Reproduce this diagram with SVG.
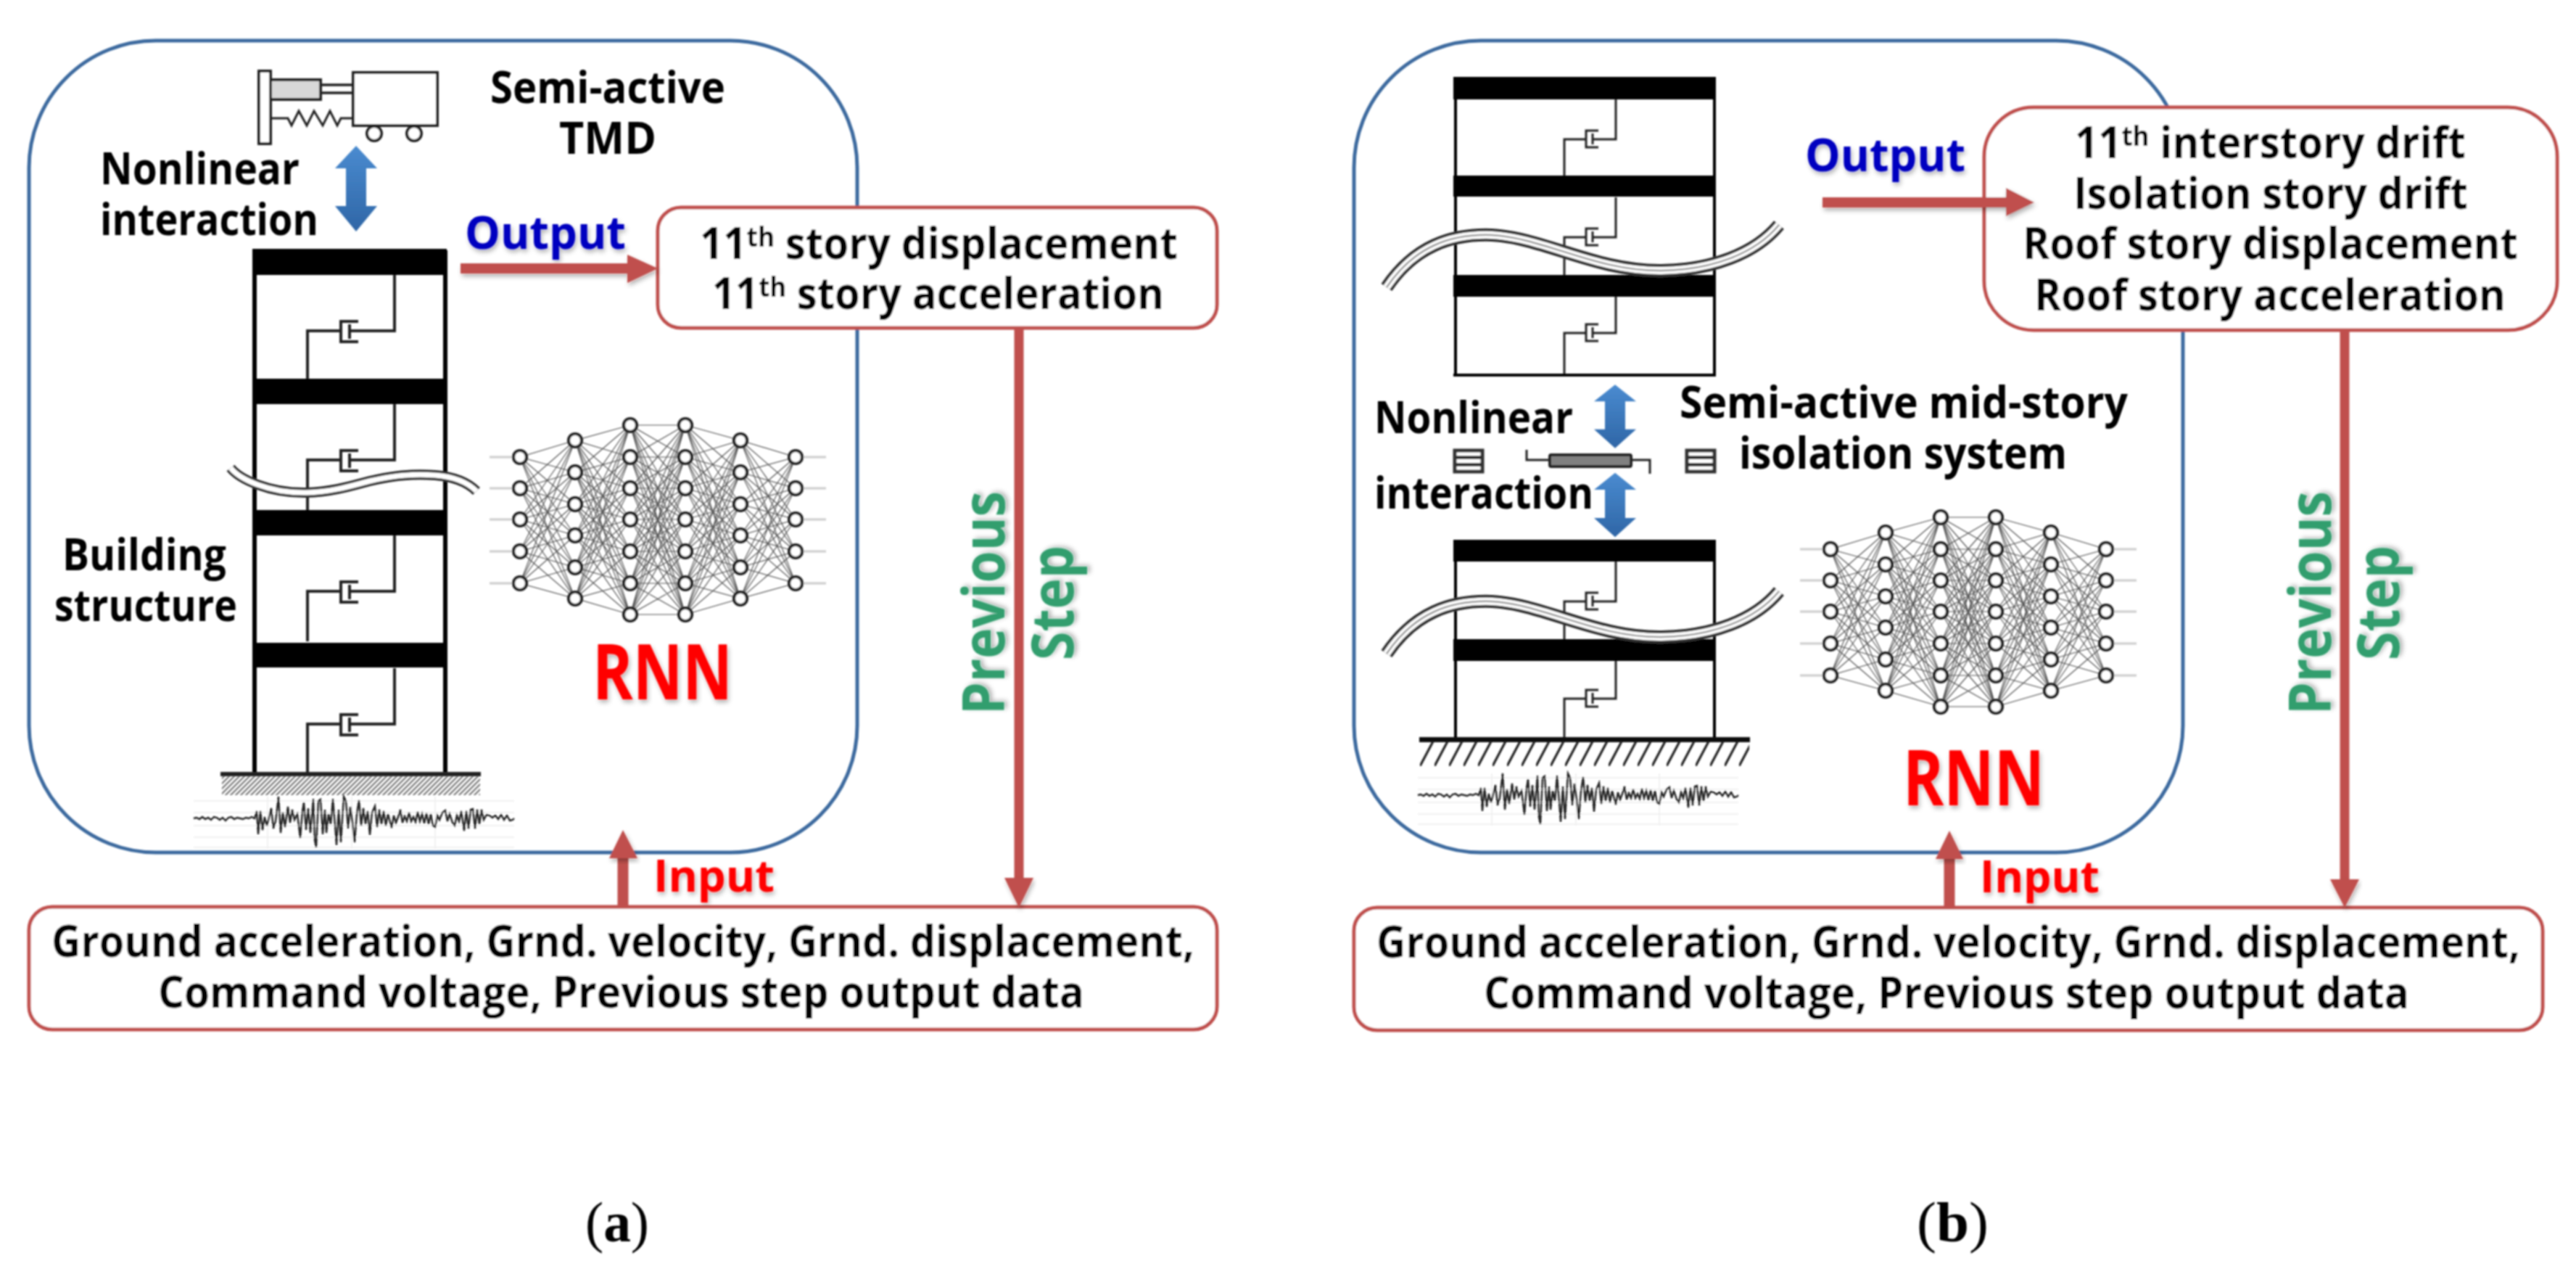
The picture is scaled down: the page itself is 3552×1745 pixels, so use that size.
<svg xmlns="http://www.w3.org/2000/svg" width="3552" height="1745" viewBox="0 0 3552 1745">
<style>
text{font-family:"Open Sans","Noto Sans","Liberation Sans",sans-serif;font-weight:700;font-size:61px;fill:#000}
.mid{text-anchor:middle}
.sup{font-size:38px}
.out{font-size:62px;fill:#0000c0;filter:url(#sh)}
.in{fill:#f00;filter:url(#sh)}
.rnn{fill:#f00;font-size:105px;filter:url(#sh)}
.ps{font-size:81px;fill:#339e6e;filter:url(#sh)}
.cap{font-family:"Liberation Serif",serif;font-weight:400;font-size:78px}
.capb{font-weight:700}
.frame{fill:none;stroke:#3c6a9f;stroke-width:5}
.box{fill:#fff;stroke:#c0504d;stroke-width:5}
.arr{fill:#c0504d;filter:url(#sh)}
.line{stroke:#c0504d;stroke-width:13;fill:none}
.slab{fill:#000}
.col{stroke:#000;fill:none}
.thin{stroke:#222;stroke-width:3;fill:none}
.wave1{fill:none;stroke:#333;stroke-width:14}
.wave2{fill:none;stroke:#fff;stroke-width:7}
.waveb1{fill:none;stroke:#333;stroke-width:18}
.waveb2{fill:none;stroke:#fff;stroke-width:10}
.waveb3{fill:none;stroke:#999;stroke-width:2.5}
.link{fill:none;stroke:#555;stroke-width:1.2}
.stub{stroke:#ccc;stroke-width:3;fill:none}
.n{fill:#fff;stroke:#222;stroke-width:4.2}
.tmd{fill:#fff;stroke:#222;stroke-width:4}
.grid{fill:none;stroke:#f1f1f1;stroke-width:2}
</style>
<defs>
<filter id="soft" filterUnits="userSpaceOnUse" x="0" y="0" width="3552" height="1745"><feGaussianBlur stdDeviation="0.9"/></filter>
<filter id="sh" x="-10%" y="-10%" width="120%" height="130%"><feDropShadow dx="2" dy="4" stdDeviation="3" flood-color="#000" flood-opacity=".3"/></filter>
<linearGradient id="blue" x1="0" y1="0" x2="0" y2="1"><stop offset="0" stop-color="#4a8bd0"/><stop offset="1" stop-color="#2f66a6"/></linearGradient>
<pattern id="fine" width="7" height="7" patternUnits="userSpaceOnUse"><path d="M-1 8L8 -1M-1 1L1 -1M6 8L8 6" stroke="#777" stroke-width="2.2"/></pattern>
<pattern id="coarse" width="20" height="34" patternUnits="userSpaceOnUse" patternTransform="translate(1958 1022)"><path d="M0 34L18 0" stroke="#222" stroke-width="3.2"/></pattern>
<path id="dblarrow" fill="url(#blue)" d="M0 -59L29 -28H14V24H29L0 59L-29 24H-14V-28H-29Z"/>
<g id="half">
<path class="stub" d="M675 630H717M675 673H717M675 716H717M675 760H717M675 804H717"/>
<path class="link" d="M717 630L793 607 717 630 793 651 717 630 793 695 717 630 793 738 717 630 793 782 717 630 793 825M717 673L793 607 717 673 793 651 717 673 793 695 717 673 793 738 717 673 793 782 717 673 793 825M717 716L793 607 717 716 793 651 717 716 793 695 717 716 793 738 717 716 793 782 717 716 793 825M717 760L793 607 717 760 793 651 717 760 793 695 717 760 793 738 717 760 793 782 717 760 793 825M717 804L793 607 717 804 793 651 717 804 793 695 717 804 793 738 717 804 793 782 717 804 793 825"/>
<path class="link" d="M793 607L869 586 793 607 869 630 793 607 869 673 793 607 869 716 793 607 869 760 793 607 869 804 793 607 869 847M793 651L869 586 793 651 869 630 793 651 869 673 793 651 869 716 793 651 869 760 793 651 869 804 793 651 869 847M793 695L869 586 793 695 869 630 793 695 869 673 793 695 869 716 793 695 869 760 793 695 869 804 793 695 869 847M793 738L869 586 793 738 869 630 793 738 869 673 793 738 869 716 793 738 869 760 793 738 869 804 793 738 869 847M793 782L869 586 793 782 869 630 793 782 869 673 793 782 869 716 793 782 869 760 793 782 869 804 793 782 869 847M793 825L869 586 793 825 869 630 793 825 869 673 793 825 869 716 793 825 869 760 793 825 869 804 793 825 869 847"/>
</g>
<g id="halfn">
<circle class="n" cx="717" cy="630" r="9"/><circle class="n" cx="717" cy="673" r="9"/><circle class="n" cx="717" cy="716" r="9"/><circle class="n" cx="717" cy="760" r="9"/><circle class="n" cx="717" cy="804" r="9"/>
<circle class="n" cx="793" cy="607" r="9"/><circle class="n" cx="793" cy="651" r="9"/><circle class="n" cx="793" cy="695" r="9"/><circle class="n" cx="793" cy="738" r="9"/><circle class="n" cx="793" cy="782" r="9"/><circle class="n" cx="793" cy="825" r="9"/>
<circle class="n" cx="869" cy="586" r="9"/><circle class="n" cx="869" cy="630" r="9"/><circle class="n" cx="869" cy="673" r="9"/><circle class="n" cx="869" cy="716" r="9"/><circle class="n" cx="869" cy="760" r="9"/><circle class="n" cx="869" cy="804" r="9"/><circle class="n" cx="869" cy="847" r="9"/>
</g>
<g id="nn">
<use href="#half"/><use href="#half" transform="translate(1814 0) scale(-1 1)"/>
<path class="link" d="M869 586L945 586 869 586 945 630 869 586 945 673 869 586 945 716 869 586 945 760 869 586 945 804 869 586 945 847M869 630L945 586 869 630 945 630 869 630 945 673 869 630 945 716 869 630 945 760 869 630 945 804 869 630 945 847M869 673L945 586 869 673 945 630 869 673 945 673 869 673 945 716 869 673 945 760 869 673 945 804 869 673 945 847M869 716L945 586 869 716 945 630 869 716 945 673 869 716 945 716 869 716 945 760 869 716 945 804 869 716 945 847M869 760L945 586 869 760 945 630 869 760 945 673 869 760 945 716 869 760 945 760 869 760 945 804 869 760 945 847M869 804L945 586 869 804 945 630 869 804 945 673 869 804 945 716 869 804 945 760 869 804 945 804 869 804 945 847M869 847L945 586 869 847 945 630 869 847 945 673 869 847 945 716 869 847 945 760 869 847 945 804 869 847 945 847"/>
<use href="#halfn"/><use href="#halfn" transform="translate(1814 0) scale(-1 1)"/>
</g>
<g id="quake">
<path class="grid" d="M0 -24H442M0 -8H442M0 10H442M0 26H442M0 40H442M102 -30V42M218 -30V42M333 -30V42"/>
<path fill="none" stroke="#222" stroke-width="2.4" d="M0 0L4 -1 8 1 12 -2 16 1 20 -1 24 2 28 -2 32 -1 36 2 40 -1 44 3 48 -1 52 -2 56 1 60 -1 64 0 68 1 72 -1 76 0 80 -2 84 0 87 -10 89 22 92 -10 95 16 98 -2 101 10 104 -2 107 -14 110 14 113 4 117 -30 120 20 123 -8 126 12 130 -16 133 6 136 -12 139 2 143 -6 147 27 150 -10 152 -22 155 16 158 -14 161 20 165 -27 167 30 169 40 172 -24 175 -26 178 22 181 -12 183 20 186 -6 189 8 192 -27 195 10 197 37 200 -12 203 33 207 -30 210 -24 213 14 216 -16 219 6 222 33 225 -6 228 -25 231 10 234 -14 237 8 240 -10 243 23 246 -8 250 -17 253 12 256 -12 259 8 262 -10 265 10 268 -6 273 13 276 -4 279 6 282 -2 285 -12 288 6 291 -3 294 4 297 -8 300 4 303 -2 306 5 309 -9 312 4 315 -6 318 7 321 -7 324 8 327 -6 330 10 333 12 336 -4 339 2 343 -8 347 -11 350 4 353 -6 357 6 360 10 363 -4 366 4 369 -10 373 17 376 -10 379 14 382 -12 385 -13 388 14 391 -12 394 8 397 -12 400 2 404 -5 408 -4 412 -1 416 -4 420 1 424 -5 428 2 432 -4 436 3 440 2 442 0"/>
</g>
<g id="dmpa" class="thin" style="stroke-width:4"><path d="M544 379V456H482M424 525V456H470M494 443H470V471H494M482 447V467"/></g>
<g id="dmpb" class="thin"><path d="M2228 137V192H2196M2157 250V192H2187M2204 180H2187V203H2204M2196 184V199"/></g>
<path id="iso" fill="#fff" stroke="#333" stroke-width="5" d="M3 3H41V32H3ZM3 12.5H41M3 22.5H41"/>
<path id="wb" d="M1912 396C1950 340 2000 322 2057 324C2130 328 2200 374 2291 373C2360 372 2420 350 2453 310"/>
</defs>
<rect width="3552" height="1745" fill="#fff"/>
<g id="figure" filter="url(#soft)">

<g id="panel-a-frame"><rect class="frame" x="40" y="56" width="1142" height="1119" rx="175" ry="175"/></g>
<g id="panel-b-frame"><rect class="frame" x="1867" y="56" width="1143" height="1119" rx="175" ry="175"/></g>

<g id="tmd">
<rect class="tmd" x="357" y="98" width="16" height="100"/>
<rect class="tmd" x="373" y="110" width="69" height="27" style="fill:#d8d8d8"/>
<path class="thin" style="stroke-width:3.5" d="M442 117H487M442 128H487"/>
<path class="thin" d="M373 163H397L402 173 412 153 423 173 433 153 445 173 455 153 465 173 470 163H487"/>
<rect class="tmd" x="487" y="100" width="116" height="73"/>
<circle class="tmd" cx="516" cy="184" r="10"/><circle class="tmd" cx="571" cy="184" r="10"/>
<text class="mid" x="838" y="142" textLength="324" lengthAdjust="spacingAndGlyphs">Semi-active</text>
<text class="mid" x="838" y="212" textLength="134" lengthAdjust="spacingAndGlyphs">TMD</text>
</g>
<g id="interaction-a">
<text x="138" y="254" textLength="275" lengthAdjust="spacingAndGlyphs">Nonlinear</text>
<text x="138" y="324" textLength="301" lengthAdjust="spacingAndGlyphs">interaction</text>
<use href="#dblarrow" x="491" y="260"/>
</g>

<g id="building-a">
<use href="#dmpa"/><use href="#dmpa" y="178"/><use href="#dmpa" y="359"/><use href="#dmpa" y="542"/>
<path class="col" style="stroke-width:6" d="M351 345V1067M614 345V1067"/>
<rect class="slab" x="348" y="343" width="268" height="36"/>
<rect class="slab" x="348" y="522" width="268" height="35"/>
<rect class="slab" x="348" y="703" width="268" height="35"/>
<rect class="slab" x="348" y="886" width="268" height="34"/>
<rect x="304" y="1064" width="359" height="6" fill="#222"/>
<rect x="306" y="1070" width="356" height="26" fill="url(#fine)"/>
<path class="wave1" d="M318 645C330 660 370 680 423 679C460 678 490 668 510 663C545 655 570 653 600 655C625 657 645 665 657 677"/>
<path class="wave2" d="M318 645C330 660 370 680 423 679C460 678 490 668 510 663C545 655 570 653 600 655C625 657 645 665 657 677"/>
<use href="#quake" x="267" y="1128"/>
<text class="mid" x="199" y="786" textLength="226" lengthAdjust="spacingAndGlyphs">Building</text>
<text class="mid" x="201" y="856" textLength="252" lengthAdjust="spacingAndGlyphs">structure</text>
</g>

<g id="rnn-a"><use href="#nn"/><text class="rnn" x="817" y="964" textLength="193" lengthAdjust="spacingAndGlyphs">RNN</text></g>

<g id="output-a">
<text class="out" x="641" y="343" textLength="222" lengthAdjust="spacingAndGlyphs">Output</text>
<rect class="box" x="907" y="286" width="771" height="166" rx="32" ry="32"/>
<text x="965" y="357" textLength="659" lengthAdjust="spacingAndGlyphs">11<tspan class="sup" dy="-17">th</tspan><tspan dy="17"> story displacement</tspan></text>
<text x="982" y="426" textLength="623" lengthAdjust="spacingAndGlyphs">11<tspan class="sup" dy="-17">th</tspan><tspan dy="17"> story acceleration</tspan></text>
</g>
<g id="prev-a">
<text class="ps" transform="translate(1385 985) rotate(-90)" textLength="308" lengthAdjust="spacingAndGlyphs">Previous</text>
<text class="ps" transform="translate(1480 910) rotate(-90)" textLength="158" lengthAdjust="spacingAndGlyphs">Step</text>
</g>
<g id="input-a">
<text class="in" x="901" y="1229" textLength="167" lengthAdjust="spacingAndGlyphs">Input</text>
<rect class="box" x="40" y="1250" width="1638" height="169" rx="32" ry="32"/>
<text x="71" y="1319" textLength="1576" lengthAdjust="spacingAndGlyphs">Ground acceleration, Grnd. velocity, Grnd. displacement,</text>
<text x="218" y="1389" textLength="1277" lengthAdjust="spacingAndGlyphs">Command voltage, Previous step output data</text>
</g>
<text id="caption-a" class="cap" x="807" y="1711" textLength="88" lengthAdjust="spacingAndGlyphs">(<tspan class="capb">a</tspan>)</text>

<g id="building-b">
<use href="#dmpb"/><use href="#dmpb" y="135"/><use href="#dmpb" y="267"/><use href="#dmpb" y="637"/><use href="#dmpb" y="771"/>
<path class="col" style="stroke-width:4" d="M2007 108V517M2364 108V517M2004 517H2366M2007 746V1017M2364 746V1017"/>
<rect class="slab" x="2004" y="106" width="362" height="31"/>
<rect class="slab" x="2004" y="242" width="362" height="29"/>
<rect class="slab" x="2004" y="379" width="362" height="30"/>
<rect class="slab" x="2004" y="744" width="362" height="30"/>
<rect class="slab" x="2004" y="881" width="362" height="30"/>
<rect x="1957" y="1016" width="456" height="7" fill="#111"/>
<rect x="1958" y="1022" width="454" height="34" fill="url(#coarse)"/>
<use href="#wb" class="waveb1"/><use href="#wb" class="waveb2"/><use href="#wb" class="waveb3"/>
<use href="#wb" class="waveb1" y="505"/><use href="#wb" class="waveb2" y="505"/><use href="#wb" class="waveb3" y="505"/>
<use href="#quake" x="1955" y="1096"/>
</g>
<g id="isolator">
<use href="#dblarrow" transform="translate(2227 574) scale(1 .74)"/>
<use href="#dblarrow" transform="translate(2227 696) scale(1 .75)"/>
<use href="#iso" x="2003" y="618"/><use href="#iso" x="2323" y="618"/>
<rect x="2137" y="627" width="112" height="16" rx="2" fill="#808080" stroke="#222" stroke-width="4"/>
<path class="thin" d="M2105 620V634H2137M2249 634H2275V653"/>
<text x="1895" y="597" textLength="274" lengthAdjust="spacingAndGlyphs">Nonlinear</text>
<text x="1895" y="701" textLength="302" lengthAdjust="spacingAndGlyphs">interaction</text>
<text x="2316" y="576" textLength="618" lengthAdjust="spacingAndGlyphs">Semi-active mid-story</text>
<text x="2398" y="646" textLength="452" lengthAdjust="spacingAndGlyphs">isolation system</text>
</g>
<g id="rnn-b"><use href="#nn" x="1807" y="127"/><text class="rnn" x="2624" y="1110" textLength="195" lengthAdjust="spacingAndGlyphs">RNN</text></g>
<g id="output-b">
<text class="out" x="2489" y="236" textLength="221" lengthAdjust="spacingAndGlyphs">Output</text>
<rect class="box" x="2736" y="148" width="790" height="307" rx="68" ry="68"/>
<text x="2861" y="218" textLength="539" lengthAdjust="spacingAndGlyphs">11<tspan class="sup" dy="-17">th</tspan><tspan dy="17"> interstory drift</tspan></text>
<text x="2859" y="288" textLength="544" lengthAdjust="spacingAndGlyphs">Isolation story drift</text>
<text x="2789" y="357" textLength="683" lengthAdjust="spacingAndGlyphs">Roof story displacement</text>
<text x="2805" y="428" textLength="650" lengthAdjust="spacingAndGlyphs">Roof story acceleration</text>
</g>
<g id="prev-b">
<text class="ps" transform="translate(3214 985) rotate(-90)" textLength="308" lengthAdjust="spacingAndGlyphs">Previous</text>
<text class="ps" transform="translate(3308 910) rotate(-90)" textLength="158" lengthAdjust="spacingAndGlyphs">Step</text>
</g>
<g id="input-b">
<text class="in" x="2730" y="1230" textLength="165" lengthAdjust="spacingAndGlyphs">Input</text>
<rect class="box" x="1867" y="1251" width="1639" height="169" rx="32" ry="32"/>
<text x="1898" y="1320" textLength="1577" lengthAdjust="spacingAndGlyphs">Ground acceleration, Grnd. velocity, Grnd. displacement,</text>
<text x="2046" y="1390" textLength="1276" lengthAdjust="spacingAndGlyphs">Command voltage, Previous step output data</text>
</g>
<text id="caption-b" class="cap" x="2643" y="1711" textLength="99" lengthAdjust="spacingAndGlyphs">(<tspan class="capb">b</tspan>)</text>

<g id="connectors">
<path class="line" d="M1405 453V1212"/>
<polygon class="arr" points="1385,1210 1425,1210 1405,1251"/>
<path class="line" style="stroke-width:15" d="M859 1250V1180"/>
<polygon class="arr" points="840,1183 879,1183 859,1144"/>
<polygon class="arr" points="635,363 865,363 865,351 907,370 865,390 865,377 635,377"/>
<path class="line" d="M3233 455V1214"/>
<polygon class="arr" points="3213,1212 3253,1212 3233,1251"/>
<path class="line" style="stroke-width:15" d="M2688 1251V1180"/>
<polygon class="arr" points="2669,1184 2707,1184 2688,1145"/>
<polygon class="arr" points="2513,272 2766,272 2766,259 2805,279 2766,298 2766,286 2513,286"/>
</g>
</g>
</svg>
